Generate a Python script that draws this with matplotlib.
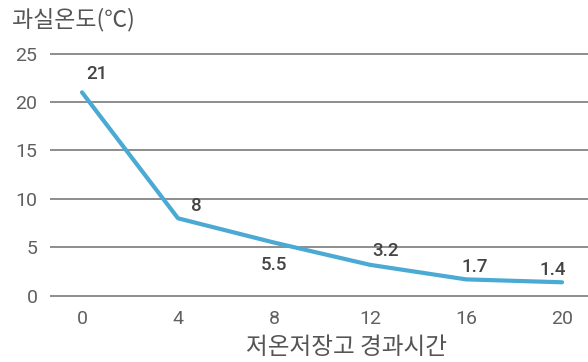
import matplotlib
matplotlib.use('Agg')
import matplotlib.pyplot as plt

# 저온저장고 경과시간 vs 과실온도
hours = [0, 4, 8, 12, 16, 20]
temps = [21, 8, 5.5, 3.2, 1.7, 1.4]
label_text = ['21', '8', '5.5', '3.2', '1.7', '1.4']
yticks = [0, 5, 10, 15, 20, 25]
xticks = [0, 4, 8, 12, 16, 20]

plt.rcParams['font.family'] = ['Noto Sans CJK KR', 'DejaVu Sans']

fig = plt.figure(figsize=(5.88, 3.62), dpi=100)
ax = fig.add_axes([50 / 588, 1 - 300.7 / 362, 538 / 588, 252 / 362])

for y in yticks:
    ax.axhline(y, color='#7a7a7a', lw=1.2, zorder=1)

ax.plot(hours, temps, color='#4aaad4', lw=3, solid_capstyle='round', zorder=3)

# label offsets in points (dx, dy)
offsets = [(11, 13), (13, 9), (0, -16), (11, 10), (6, 9), (-7, 9)]
for x, y, t, (dx, dy) in zip(hours, temps, label_text, offsets):
    ax.annotate(t, (x, y), xytext=(dx, dy), textcoords='offset points',
                ha='center', va='center', fontsize=13.5, fontweight='medium',
                family='Roboto', color='#444444', zorder=4)

ax.set_xlim(-1.333, 21.08)
ax.set_ylim(-0.5, 25.5)
ax.set_xticks(xticks)
ax.set_yticks(yticks)
ax.tick_params(length=0, labelsize=14, labelcolor='#606060')
ax.tick_params(axis='y', pad=9)
ax.tick_params(axis='x', pad=7)
for lbl in ax.get_xticklabels() + ax.get_yticklabels():
    lbl.set_family('Roboto')
for s in ax.spines.values():
    s.set_visible(False)

fig.text(12 / 588, 1 - 20 / 362, '과실온도(℃)', fontsize=16.5, color='#555555',
         ha='left', va='center', fontweight='light')
fig.text(347 / 588, 1 - 347 / 362, '저온저장고 경과시간', fontsize=17,
         color='#555555', ha='center', va='center', fontweight='light')

fig.savefig('out.png', dpi=100)
